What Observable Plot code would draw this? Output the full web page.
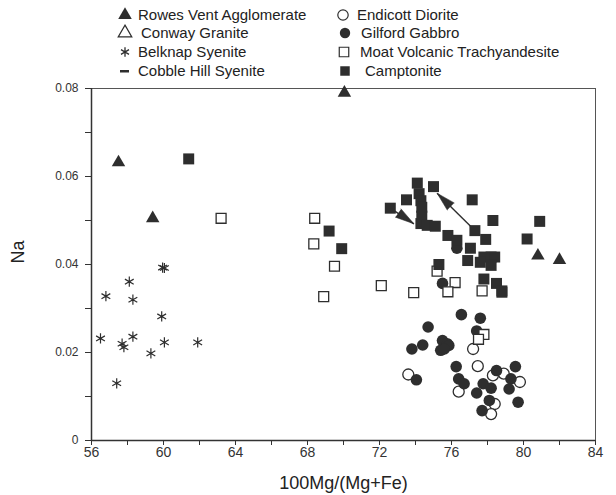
<!DOCTYPE html>
<html>
<head>
<meta charset="utf-8">
<script src="https://cdn.jsdelivr.net/npm/d3@7"></script>
<script src="https://cdn.jsdelivr.net/npm/@observablehq/plot@0.6"></script>
<style>
  body { margin: 0; background: #fff; font-family: "Liberation Sans", Arial, sans-serif; }
  #legend { position: relative; width: 616px; height: 80px; }
  .item { position: absolute; font-size: 15px; color: #222; white-space: nowrap; line-height: 18px; }
  .sym { position: absolute; }
</style>
</head>
<body>
<div id="legend"></div>
<div id="chart"></div>
<script>
// ---- data (x = 100Mg/(Mg+Fe), y = Na) ----
const rowesVent = [[57.5, 0.0632], [59.4, 0.0505], [70.05, 0.0790], [80.8, 0.0420], [82.0, 0.0410]];
const conwayGranite = [];
const belknapSyenite = [
  [59.95, 0.0393], [60.05, 0.0392], [58.1, 0.0361], [56.8, 0.0328], [58.3, 0.0320], [59.9, 0.0282],
  [56.5, 0.0232], [57.7, 0.0220], [57.8, 0.0212], [58.3, 0.0236], [59.3, 0.0198], [60.05, 0.0223],
  [61.9, 0.0223], [57.4, 0.0130]
];
const cobbleHill = [];
const endicottDiorite = [
  [73.6, 0.0150], [77.2, 0.0208], [77.46, 0.0169], [76.4, 0.0111], [78.3, 0.0148],
  [78.9, 0.0152], [79.8, 0.0133], [78.4, 0.0083], [78.2, 0.0060]
];
const gilfordGabbro = [
  [76.55, 0.0286], [77.6, 0.0278], [74.7, 0.0258], [77.4, 0.0249], [73.8, 0.0208], [74.4, 0.0217],
  [75.5, 0.0227], [75.76, 0.0220], [75.4, 0.0205], [75.85, 0.0216], [75.6, 0.0208], [74.05, 0.0138],
  [76.26, 0.0168], [76.4, 0.0140], [76.7, 0.0129], [77.76, 0.0129], [78.2, 0.0119], [77.4, 0.0108],
  [78.1, 0.0091], [77.7, 0.0068], [78.5, 0.0159], [79.55, 0.0168], [79.3, 0.0140], [79.2, 0.0117],
  [79.7, 0.0087], [76.3, 0.0437], [75.5, 0.0357]
];
const moatTrachyandesite = [
  [63.2, 0.0505], [68.4, 0.0505], [68.35, 0.0447], [69.5, 0.0396], [68.9, 0.0327], [72.1, 0.0352],
  [73.9, 0.0336], [75.2, 0.0385], [76.2, 0.0359], [75.8, 0.0338], [77.7, 0.0340], [77.8, 0.0241],
  [77.5, 0.0230]
];
const camptonite = [
  [61.4, 0.0640], [69.2, 0.0476], [69.9, 0.0436], [72.6, 0.0528], [74.1, 0.0585], [75.0, 0.0577],
  [73.5, 0.0547], [74.2, 0.0561], [74.3, 0.0545], [74.35, 0.0530], [74.35, 0.0510], [74.3, 0.0493],
  [74.65, 0.0489], [75.1, 0.0487], [75.8, 0.0466], [76.3, 0.0455], [77.05, 0.0437], [77.15, 0.0547],
  [78.3, 0.0500], [77.3, 0.0477], [77.9, 0.0457], [76.9, 0.0409], [77.8, 0.0417], [78.2, 0.0417],
  [78.4, 0.0417], [77.6, 0.0405], [78.2, 0.0398], [77.8, 0.0367], [78.5, 0.0357], [78.8, 0.0337],
  [80.9, 0.0498], [80.2, 0.0458], [75.3, 0.0400], [78.8, 0.0340]
];
// arrows: tail -> tip; head direction in degrees (clockwise from up)
const arrowLines = [
  {x1: 72.6, y1: 0.0528, x2: 73.91, y2: 0.04925, angle: 124.5},
  {x1: 77.3, y1: 0.0477, x2: 75.2, y2: 0.0562, angle: -45.8}
];
const xMajor = [56, 60, 64, 68, 72, 76, 80, 84];
const xMinor = [58, 62, 66, 70, 74, 78, 82];
const yMajor = [0, 0.02, 0.04, 0.06, 0.08];
const yMajorLabels = ["0", "0.02", "0.04", "0.06", "0.08"];
const yMinor = [0.01, 0.03, 0.05, 0.07];

const legendItems = [
  {name: "Rowes Vent Agglomerate", sym: "triangle", filled: true, sx: 125, tx: 138, y: 15},
  {name: "Conway Granite", sym: "triangle", filled: false, sx: 125, tx: 141, y: 33},
  {name: "Belknap Syenite", sym: "asterisk", filled: false, sx: 125, tx: 138, y: 52},
  {name: "Cobble Hill Syenite", sym: "dash", filled: true, sx: 125, tx: 138, y: 71},
  {name: "Endicott Diorite", sym: "circle", filled: false, sx: 343, tx: 357, y: 15},
  {name: "Gilford Gabbro", sym: "circle", filled: true, sx: 345, tx: 361, y: 33},
  {name: "Moat Volcanic Trachyandesite", sym: "square", filled: false, sx: 344, tx: 360, y: 52},
  {name: "Camptonite", sym: "square", filled: true, sx: 345, tx: 365, y: 71}
];

const ink = "#2e2e2e";

// ---- legend ----
const legend = document.getElementById("legend");
const symPath = {
  triangle: d3.symbol(d3.symbolTriangle, 80)(),
  circle: d3.symbol(d3.symbolCircle, 85)(),
  square: d3.symbol(d3.symbolSquare, 90)(),
  asterisk: d3.symbol(d3.symbolAsterisk, 60)()
};
for (const it of legendItems) {
  const s = document.createElementNS("http://www.w3.org/2000/svg", "svg");
  s.setAttribute("width", 18); s.setAttribute("height", 18);
  s.setAttribute("class", "sym");
  s.style.left = (it.sx - 9) + "px"; s.style.top = (it.y - 9) + "px";
  let el;
  if (it.sym === "dash") {
    el = document.createElementNS("http://www.w3.org/2000/svg", "rect");
    el.setAttribute("x", 4); el.setAttribute("y", 8); el.setAttribute("width", 9); el.setAttribute("height", 2.5);
    el.setAttribute("fill", ink);
  } else {
    el = document.createElementNS("http://www.w3.org/2000/svg", "path");
    el.setAttribute("d", symPath[it.sym]);
    el.setAttribute("transform", "translate(9,9)");
    if (it.sym === "asterisk") { el.setAttribute("fill", "none"); el.setAttribute("stroke", ink); el.setAttribute("stroke-width", 1.3); }
    else if (it.filled) { el.setAttribute("fill", ink); }
    else { el.setAttribute("fill", "white"); el.setAttribute("stroke", ink); el.setAttribute("stroke-width", 1.2); }
  }
  s.appendChild(el);
  legend.appendChild(s);
  const t = document.createElement("div");
  t.className = "item";
  t.textContent = it.name;
  t.style.left = it.tx + "px"; t.style.top = (it.y - 9) + "px";
  legend.appendChild(t);
}

// ---- chart ----
const P = (a) => a.map(([x, y]) => ({x, y}));
const chart = Plot.plot({
  width: 616,
  height: 415,
  marginTop: 8,
  marginLeft: 91,
  marginRight: 21,
  marginBottom: 55,
  style: {fontFamily: "Liberation Sans, Arial, sans-serif", color: "#333", background: "white"},
  x: {domain: [56, 84]},
  y: {domain: [0, 0.08]},
  marks: [
    Plot.frame({stroke: "#555", strokeWidth: 1}),
    Plot.ruleX([56], {stroke: "#333", strokeWidth: 1.5}),
    Plot.ruleY([0], {stroke: "#333", strokeWidth: 1.5}),
    Plot.axisX({ticks: xMajor, tickSize: 5, tickPadding: 2, fontSize: 14, label: null, tickFormat: d => String(d)}),
    Plot.axisX({ticks: xMinor, tickSize: 5, tickFormat: () => "", label: null}),
    Plot.axisY({ticks: yMajor, tickSize: 6, tickPadding: 7, fontSize: 12, label: null,
      tickFormat: d => yMajorLabels[yMajor.indexOf(d)]}),
    Plot.axisY({ticks: yMinor, tickSize: 6, tickFormat: () => "", label: null}),
    Plot.text(["100Mg/(Mg+Fe)"], {frameAnchor: "bottom", dy: 43, fontSize: 18, fill: "#222", lineAnchor: "middle"}),
    Plot.text(["Na"], {frameAnchor: "left", dx: -73, dy: -1, rotate: -90, fontSize: 18, fill: "#222", lineAnchor: "middle"}),
    // data
    Plot.dot(P(belknapSyenite), {x: "x", y: "y", symbol: "asterisk", r: 4.8, stroke: ink, strokeWidth: 1.2}),
    Plot.dot(P(conwayGranite), {x: "x", y: "y", symbol: "triangle", r: 5, stroke: ink, fill: "white"}),
    Plot.dot(P(cobbleHill), {x: "x", y: "y", symbol: "square", r: 2, fill: ink}),
    Plot.dot(P(endicottDiorite), {x: "x", y: "y", symbol: "circle", r: 5.5, stroke: ink, fill: "white", strokeWidth: 1.3}),
    Plot.dot(P(gilfordGabbro), {x: "x", y: "y", symbol: "circle", r: 5.8, fill: ink}),
    Plot.dot(P(moatTrachyandesite), {x: "x", y: "y", symbol: "square", r: 5.6, stroke: ink, fill: "white", strokeWidth: 1.3}),
    Plot.link(arrowLines, {x1: "x1", y1: "y1", x2: "x2", y2: "y2", stroke: ink, strokeWidth: 1.4}),
    Plot.vector(arrowLines, {x: "x2", y: "y2", rotate: "angle", length: 19, r: 5, shape: "spike", anchor: "end", fill: ink, stroke: ink, strokeWidth: 0.5}),
    Plot.dot(P(camptonite), {x: "x", y: "y", symbol: "square", r: 6.2, fill: ink}),
    Plot.dot(P(rowesVent), {x: "x", y: "y", symbol: "triangle", r: 5, fill: ink})
  ]
});
document.getElementById("chart").appendChild(chart);
</script>
</body>
</html>
